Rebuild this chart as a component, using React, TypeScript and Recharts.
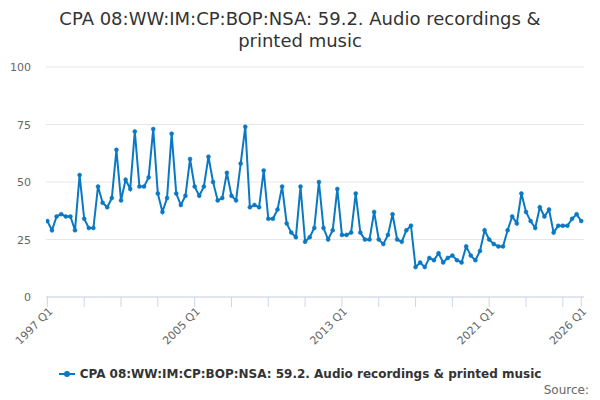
import { CartesianGrid, Line, LineChart, XAxis, YAxis } from "recharts";

const BLUE = "#0a78c2";
const SERIES_NAME = "CPA 08:WW:IM:CP:BOP:NSA: 59.2. Audio recordings & printed music";

// quarterly, 1997 Q1 .. 2026 Q1
const firstYear = 1997;
const values = [
  33, 29, 35, 36, 35, 35, 29, 53, 34, 30, 30, 48, 41, 39, 43, 64, 42, 51, 47, 72,
  48, 48, 52, 73, 45, 37, 43, 71, 45, 40, 44, 60, 48, 44, 48, 61, 50, 42, 43, 54,
  44, 42, 58, 74, 39, 40, 39, 55, 34, 34, 38, 48, 32, 28, 26, 48, 24, 26, 30, 50,
  30, 25, 29, 47, 27, 27, 28, 45, 28, 25, 25, 37, 25, 23, 27, 36, 25, 24, 29, 31,
  13, 15, 13, 17, 16, 19, 15, 17, 18, 16, 15, 22, 18, 16, 20, 29, 25, 23, 22, 22,
  29, 35, 32, 45, 37, 33, 30, 39, 35, 38, 28, 31, 31, 31, 34, 36, 33,
];

const yTicks = [0, 25, 50, 75, 100];
const xTicks = [0, 8, 16, 24, 32, 40, 48, 56, 64, 72, 80, 88, 96, 104, 112, 116];
const xLabelTicks = [0, 32, 64, 96, 116];
const xLabels = ["1997 Q1", "2005 Q1", "2013 Q1", "2021 Q1", "2026 Q1"];

const rows = values.map((value, i) => ({
  i,
  quarter: `${firstYear + Math.floor(i / 4)} Q${(i % 4) + 1}`,
  value,
}));

function XTick({ x, payload }: any) {
  const k = xLabelTicks.indexOf(payload.value);
  if (k < 0) return <g />;
  const tx = x + 6;
  const ty = 312;
  return (
    <text x={tx} y={ty} transform={`rotate(-45 ${tx} ${ty})`} textAnchor="end" fontSize={11} fill="#666666">
      {xLabels[k]}
    </text>
  );
}

function YTick({ y, payload }: any) {
  return (
    <text x={31} y={y + 4} textAnchor="end" fontSize={11} fill="#666666">
      {payload.value}
    </text>
  );
}

export default function App() {
  return (
    <div style={{ position: "absolute", left: 0, top: 0, width: 600, height: 400, fontFamily: "DejaVu Sans", background: "#fff" }}>
      <div
        style={{
          position: "absolute",
          top: 8,
          left: 0,
          width: 600,
          textAlign: "center",
          fontSize: 18,
          lineHeight: "22px",
          color: "#333333",
        }}
      >
        CPA 08:WW:IM:CP:BOP:NSA: 59.2. Audio recordings &amp;
        <br />
        printed music
      </div>

      <LineChart width={600} height={400} data={rows} margin={{ top: 67, right: 16, bottom: 73, left: 0 }}>
        <CartesianGrid horizontal vertical={false} stroke="#e6e6e6" />
        <XAxis
          dataKey="i"
          type="number"
          domain={[-0.3, 116.6]}
          allowDataOverflow
          ticks={xTicks}
          interval={0}
          height={30}
          tickSize={10}
          tick={<XTick />}
          axisLine={{ stroke: "#ccd6eb" }}
          tickLine={{ stroke: "#ccd6eb" }}
        />
        <YAxis
          domain={[0, 100]}
          ticks={yTicks}
          width={46}
          axisLine={false}
          tickLine={false}
          tick={<YTick />}
        />
        <Line
          type="linear"
          dataKey="value"
          name={SERIES_NAME}
          stroke={BLUE}
          strokeWidth={2}
          dot={{ r: 2, fill: BLUE, stroke: BLUE, strokeWidth: 0.5 }}
          isAnimationActive={false}
        />
      </LineChart>

      <div
        style={{
          position: "absolute",
          top: 366,
          left: 0,
          width: 600,
          display: "flex",
          justifyContent: "center",
          alignItems: "center",
          fontSize: 12,
          lineHeight: "16px",
          fontWeight: "bold",
          color: "#333333",
        }}
      >
        <svg width={16} height={10} style={{ marginRight: 5 }}>
          <line x1={0} y1={5} x2={16} y2={5} stroke={BLUE} strokeWidth={2} />
          <circle cx={8} cy={5} r={3} fill={BLUE} />
        </svg>
        <span>{SERIES_NAME}</span>
      </div>

      <div
        style={{
          position: "absolute",
          top: 382,
          right: 11,
          fontSize: 12,
          lineHeight: "16px",
          color: "#666666",
        }}
      >
        Source:
      </div>
    </div>
  );
}
